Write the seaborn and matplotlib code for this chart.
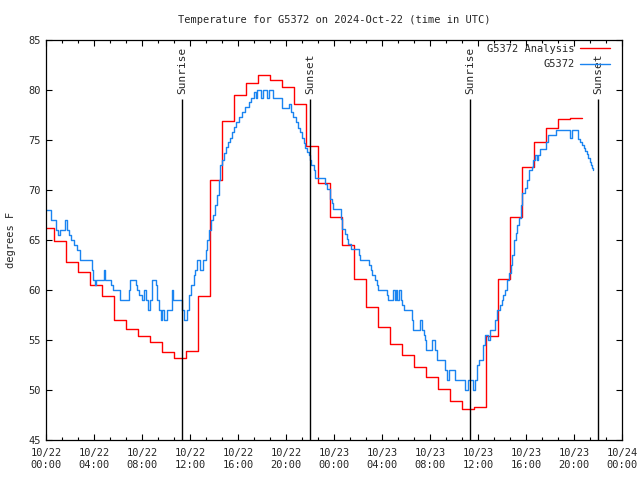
import seaborn as sns
import matplotlib
matplotlib.use("Agg")
import matplotlib.pyplot as plt
from matplotlib.ticker import MultipleLocator
import pandas as pd
import numpy as np

# station + analysis temperatures, hours since 2024-10-22 00:00 UTC
station = "G5372"

# analysis: hourly values, steps at hh:40
red_vals = [66.2, 64.9, 62.8, 61.8, 60.5, 59.4, 57.0, 56.1, 55.4, 54.8, 53.8, 53.2,
            53.9, 59.4, 71.0, 76.9, 79.5, 80.7, 81.5, 81.0, 80.3, 78.6, 74.4, 70.7,
            67.3, 64.5, 61.1, 58.3, 56.3, 54.6, 53.5, 52.3, 51.3, 50.1, 48.9, 48.1,
            48.3, 55.4, 61.1, 67.3, 72.3, 74.8, 76.2, 77.1, 77.2]
red_end = 44.67

# observations (change points)
blue_hours = [0.0, 0.4, 0.8, 1.0, 1.15, 1.55, 1.75, 1.95, 2.1, 2.3, 2.6, 2.85, 3.8, 3.95,
              4.1, 4.2, 4.8, 4.9, 5.4, 5.55, 6.17, 6.9, 7.0, 7.47, 7.6, 7.75, 7.97, 8.2,
              8.3, 8.5, 8.7, 8.8, 9.14, 9.25, 9.4, 9.56, 9.7, 9.8, 10.08, 10.5, 10.62,
              11.36, 11.5, 11.75, 11.92, 12.1, 12.3, 12.4, 12.56, 12.85, 13.1, 13.3,
              13.45, 13.6, 13.75, 13.95, 14.1, 14.25, 14.4, 14.5, 14.7, 14.85, 15.0,
              15.15, 15.3, 15.5, 15.7, 15.85, 16.05, 16.35, 16.6, 16.9, 17.1, 17.35,
              17.5, 17.6, 17.95, 18.05, 18.4, 18.55, 18.95, 19.7, 20.25, 20.4, 20.6,
              20.8, 21.0, 21.2, 21.35, 21.5, 21.6, 21.75, 21.9, 22.0, 22.1, 22.3, 22.45,
              23.25, 23.4, 23.65, 23.8, 23.95, 24.56, 24.7, 24.95, 25.1, 25.2, 25.4,
              26.05, 26.17, 26.95, 27.05, 27.2, 27.4, 27.6, 27.7, 28.4, 28.5, 28.95,
              29.05, 29.15, 29.25, 29.4, 29.55, 29.65, 29.85, 30.5, 30.6, 31.15, 31.3,
              31.5, 31.6, 31.7, 32.2, 32.4, 32.55, 33.25, 33.4, 33.55, 34.1, 34.9, 35.2,
              35.55, 35.75, 35.95, 36.1, 36.45, 36.6, 36.8, 37.0, 37.4, 37.6, 37.85,
              37.97, 38.1, 38.25, 38.45, 38.6, 38.72, 38.86, 39.0, 39.14, 39.28, 39.42,
              39.56, 39.69, 39.92, 40.1, 40.28, 40.47, 40.61, 40.75, 40.89, 41.0, 41.17,
              41.67, 41.86, 42.5, 43.67, 43.8, 44.36, 44.5, 44.64, 44.8, 44.92, 45.05,
              45.19, 45.3, 45.39, 45.5, 45.61]
blue_vals = [68.0, 67.0, 66.0, 65.5, 66.0, 67.0, 66.0, 65.5, 65.0, 64.5, 64.0, 63.0, 62.0, 61.0,
             60.5, 61.0, 62.0, 61.0, 60.5, 60.0, 59.0, 60.0, 61.0, 60.5, 60.0, 59.5, 59.0, 60.0,
             59.0, 58.0, 59.0, 61.0, 60.5, 59.0, 58.0, 57.0, 58.0, 57.0, 58.0, 60.0, 59.0,
             58.0, 57.0, 58.0, 59.5, 60.5, 61.5, 62.0, 63.0, 62.0, 63.0, 64.0,
             65.0, 66.0, 67.0, 67.5, 68.5, 69.5, 71.0, 72.5, 73.0, 73.7, 74.3,
             74.8, 75.2, 75.8, 76.3, 76.8, 77.3, 77.8, 78.3, 78.8, 79.2, 79.8,
             79.2, 80.0, 79.2, 80.0, 79.2, 80.0, 79.2, 78.2, 78.6, 77.8, 77.3,
             76.8, 76.2, 75.8, 75.2, 74.7, 74.2, 73.8, 73.5, 73.0, 72.5, 72.0, 71.2,
             70.6, 70.1, 69.1, 68.7, 68.1, 67.1, 66.1, 65.6, 65.1, 64.6, 64.1,
             63.5, 63.0, 62.5, 62.0, 61.5, 61.0, 60.5, 60.0, 59.5, 59.0, 60.0,
             59.0, 60.0, 59.0, 60.0, 59.0, 58.5, 58.0, 57.0, 56.0, 57.0, 56.0,
             55.5, 55.0, 54.0, 55.0, 54.0, 53.0, 52.0, 51.0, 52.0, 51.0, 50.0, 51.0,
             50.0, 51.0, 52.5, 53.0, 54.5, 55.5, 55.0, 56.0, 57.0, 58.0, 58.5,
             59.0, 59.5, 60.0, 61.0, 61.7, 62.5, 63.5, 65.0, 65.7, 66.5, 67.2,
             68.5, 69.7, 70.2, 71.0, 72.0, 72.3, 73.0, 73.5, 73.0, 73.5, 74.1,
             74.8, 75.5, 76.0, 75.2, 76.0, 75.1, 74.8, 74.5, 74.2, 73.9, 73.6,
             73.2, 72.8, 72.5, 72.2, 72.0]

sunrise = [11.33, 35.33]
sunset = [22.0, 46.0]

xtick_hours = [0, 4, 8, 12, 16, 20, 24, 28, 32, 36, 40, 44, 48]
xtick_labels = ["10/22\n00:00", "10/22\n04:00", "10/22\n08:00", "10/22\n12:00",
                "10/22\n16:00", "10/22\n20:00", "10/23\n00:00", "10/23\n04:00",
                "10/23\n08:00", "10/23\n12:00", "10/23\n16:00", "10/23\n20:00",
                "10/24\n00:00"]

# analysis step times: 0, then every hour at :40
red_hours = [0.0] + list(np.arange(1, len(red_vals)) - 1 + 0.67) + [red_end]
red_df = pd.DataFrame({"hour": red_hours, "temp": red_vals + [red_vals[-1]]})
blue_df = pd.DataFrame({"hour": blue_hours, "temp": blue_vals})

sns.set_theme(style="ticks")
plt.rcParams['font.family'] = ['DejaVu Sans Mono']
fs = 7.5

fig = plt.figure(figsize=(6.4, 4.8), dpi=100)
ax = fig.add_axes([46 / 640, 40 / 480, 576 / 640, 400 / 480])

sns.lineplot(data=red_df, x="hour", y="temp", color="#ff0000", lw=1.0,
             drawstyle="steps-post", estimator=None, sort=False,
             label=station + " Analysis", ax=ax)
sns.lineplot(data=blue_df, x="hour", y="temp", color="#1a84f0", lw=1.0,
             drawstyle="steps-post", estimator=None, sort=False,
             label=station, ax=ax)

# sunrise / sunset markers
for h in sunrise:
    ax.vlines(h, 45, 79.1, color="black", lw=1.0)
    ax.text(h, 79.6, "Sunrise", rotation=90, ha="center", va="bottom", fontsize=8)
for h in sunset:
    ax.vlines(h, 45, 79.1, color="black", lw=1.0)
    ax.text(h, 79.6, "Sunset", rotation=90, ha="center", va="bottom", fontsize=8)

ax.set_xlim(0, 48)
ax.set_ylim(45, 85)
ax.set_xticks(xtick_hours)
ax.set_xticklabels(xtick_labels)
ax.xaxis.set_minor_locator(MultipleLocator(4 / 3))
ax.set_yticks(range(45, 86, 5))
ax.tick_params(which="both", direction="in", top=True, right=True,
               labelsize=fs, color="black", width=0.8)
ax.tick_params(which="major", length=4.5)
ax.tick_params(which="minor", length=2.5)
ax.tick_params(axis="x", pad=6)
ax.tick_params(axis="y", pad=4)
for s in ax.spines.values():
    s.set_color("black")
    s.set_linewidth(0.9)

ax.set_xlabel("")
ax.set_ylabel("degrees F", fontsize=fs)
ax.yaxis.set_label_coords(-0.052, 0.5)
ax.set_title("Temperature for G5372 on 2024-Oct-22 (time in UTC)", fontsize=fs, pad=12)

leg = ax.legend(loc="upper right", bbox_to_anchor=(0.979, 0.99), frameon=False,
                markerfirst=False, fontsize=fs, handlelength=2.9, handletextpad=0.5,
                labelspacing=0.5, borderpad=0, borderaxespad=0)

fig.savefig("out.png", dpi=100)
